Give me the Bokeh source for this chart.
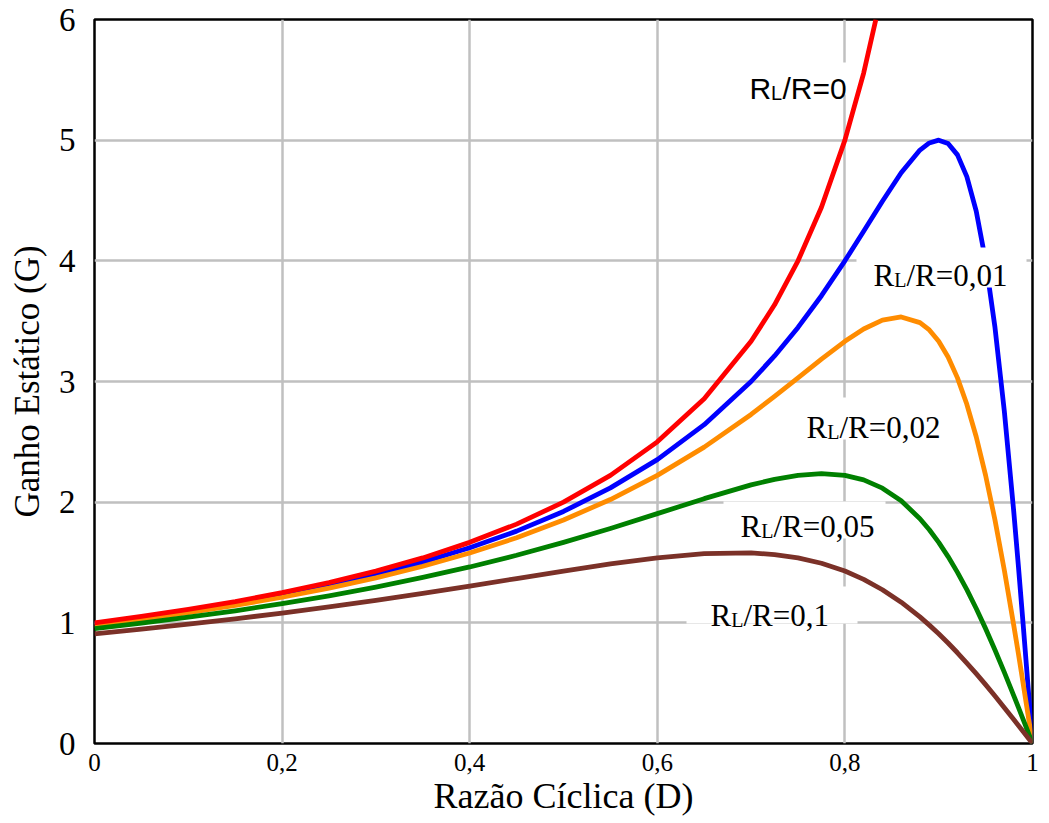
from bokeh.plotting import figure
from bokeh.models import Range1d, FixedTicker, Label, BoxAnnotation
from bokeh.embed import file_html
from bokeh.resources import INLINE

# ---------------- data ----------------
D = [0, 0.05, 0.1, 0.15, 0.2, 0.25, 0.3, 0.35, 0.4, 0.45, 0.5, 0.55, 0.6, 0.65,
     0.7, 0.725, 0.75, 0.775, 0.8, 0.82, 0.84, 0.86, 0.88, 0.89, 0.9, 0.91, 0.92,
     0.93, 0.94, 0.95, 0.96, 0.97, 0.98, 0.985, 0.99, 0.995, 1.0]

D_r0 = [0, 0.05, 0.1, 0.15, 0.2, 0.25, 0.3, 0.35, 0.4, 0.45, 0.5, 0.55, 0.6,
        0.65, 0.7, 0.725, 0.75, 0.775, 0.8, 0.82, 0.833]
G_r0 = [1.000, 1.053, 1.111, 1.176, 1.250, 1.333, 1.429, 1.538, 1.667, 1.818,
        2.000, 2.222, 2.500, 2.857, 3.333, 3.636, 4.000, 4.444, 5.000, 5.556, 6.000]

G_r001 = [0.990, 1.041, 1.098, 1.160, 1.231, 1.310, 1.400, 1.503, 1.622, 1.760,
          1.923, 2.118, 2.353, 2.642, 3.000, 3.212, 3.448, 3.711, 4.000, 4.245,
          4.494, 4.730, 4.918, 4.977, 5.000, 4.972, 4.878, 4.698, 4.412, 4.000,
          3.448, 2.752, 1.923, 1.467, 0.990, 0.499, 0.0]

G_r002 = [0.980, 1.030, 1.084, 1.145, 1.212, 1.288, 1.373, 1.469, 1.579, 1.705,
          1.852, 2.022, 2.222, 2.456, 2.727, 2.876, 3.030, 3.186, 3.333, 3.435,
          3.509, 3.535, 3.488, 3.427, 3.333, 3.203, 3.030, 2.811, 2.542, 2.222,
          1.852, 1.435, 0.980, 0.742, 0.498, 0.250, 0.0]

G_r005 = [0.952, 0.997, 1.047, 1.100, 1.159, 1.224, 1.296, 1.376, 1.463, 1.560,
          1.667, 1.782, 1.905, 2.029, 2.143, 2.189, 2.222, 2.236, 2.222, 2.185,
          2.116, 2.012, 1.863, 1.771, 1.667, 1.549, 1.418, 1.275, 1.119, 0.952,
          0.775, 0.589, 0.397, 0.299, 0.200, 0.100, 0.0]

G_r01 = [0.909, 0.948, 0.989, 1.033, 1.081, 1.132, 1.186, 1.244, 1.304, 1.367,
         1.429, 1.488, 1.538, 1.573, 1.579, 1.566, 1.538, 1.494, 1.429, 1.360,
         1.274, 1.171, 1.049, 0.981, 0.909, 0.833, 0.752, 0.667, 0.579, 0.488,
         0.394, 0.297, 0.199, 0.150, 0.100, 0.050, 0.0]

x_ticks = [0, 0.2, 0.4, 0.6, 0.8, 1]
x_tick_labels = ["0", "0,2", "0,4", "0,6", "0,8", "1"]
y_ticks = [0, 1, 2, 3, 4, 5, 6]
y_tick_labels = ["0", "1", "2", "3", "4", "5", "6"]

series_labels = ["/R=0", "/R=0,01", "/R=0,02", "/R=0,05", "/R=0,1"]

# ---------------- figure ----------------
W, H = 1049, 823
FL, FR, FT, FB = 94, 1032, 19, 743  # frame edges in canvas pixels

p = figure(width=W, height=H, x_range=Range1d(0, 1), y_range=Range1d(0, 6),
           output_backend="svg", toolbar_location=None,
           min_border_left=FL, min_border_right=W - FR,
           min_border_top=FT, min_border_bottom=H - FB)

p.background_fill_color = "white"
p.border_fill_color = "white"
p.outline_line_color = "black"
p.outline_line_width = 2.5
p.outline_line_alpha = 1.0

SERIF = "Liberation Serif"
SANS = "Liberation Sans"

for ax in (p.xaxis[0], p.yaxis[0]):
    ax.axis_line_color = None
    ax.major_tick_line_color = None
    ax.minor_tick_line_color = None
    ax.major_tick_out = 0
    ax.major_tick_in = 0
    ax.major_label_text_font = SERIF
    ax.major_label_text_color = "black"
    ax.axis_label_text_font = SERIF
    ax.axis_label_text_font_style = "normal"
    ax.axis_label_text_color = "black"

p.xaxis.ticker = FixedTicker(ticks=x_ticks)
p.xaxis.major_label_overrides = dict(zip(x_ticks, x_tick_labels))
p.xaxis.major_label_text_font_size = "25px"
p.xaxis.major_label_standoff = 10
p.xaxis.axis_label = "Razão Cíclica (D)"
p.xaxis.axis_label_text_font_size = "36px"
p.xaxis.axis_label_standoff = 2

p.yaxis.ticker = FixedTicker(ticks=y_ticks)
p.yaxis.major_label_overrides = dict(zip(y_ticks, y_tick_labels))
p.yaxis.major_label_text_font_size = "33px"
p.yaxis.major_label_standoff = 19
p.yaxis.axis_label = "Ganho Estático (G)"
p.yaxis.axis_label_text_font_size = "35px"
p.yaxis.axis_label_standoff = 9

p.xgrid.ticker = FixedTicker(ticks=x_ticks)
p.ygrid.ticker = FixedTicker(ticks=y_ticks)
for g in (p.xgrid[0], p.ygrid[0]):
    g.grid_line_color = "#C0C0C0"
    g.grid_line_width = 2.5

# ---------------- curves ----------------
LW = 4.8
p.line(D, G_r001, line_color="#0000FF", line_width=LW, line_join="round")
p.line(D, G_r002, line_color="#FF8C00", line_width=LW, line_join="round")
p.line(D, G_r005, line_color="#008000", line_width=LW, line_join="round")
p.line(D, G_r01, line_color="#7B3128", line_width=LW, line_join="round")
p.line(D_r0, G_r0, line_color="#FF0000", line_width=LW, line_join="round")

# ---------------- labels (pixel positions -> data) ----------------
PX0, PX1, PY0, PY1 = FL, FR, FT, FB
DX_PER_PX = 1.0 / (PX1 - PX0)
DY_PER_PX = 6.0 / (PY1 - PY0)


def X(px):
    return (px - PX0) * DX_PER_PX


def Y(py):
    return (PY1 - py) * DY_PER_PX


def add_label(tail, left, base, font, size, sub, r_adv, l_adv, box):
    bx0, by0, bx1, by1 = box
    p.add_layout(BoxAnnotation(left=X(bx0), right=X(bx1), top=Y(by0), bottom=Y(by1),
                               fill_color="white", fill_alpha=1.0,
                               line_color=None, level="annotation"))
    parts = [("R", 0, 0, size), ("L", r_adv, 4, sub), (tail, r_adv + l_adv, 0, size)]
    for txt, dx, db, fs in parts:
        p.add_layout(Label(x=X(left + dx), y=Y(base + db), text=txt,
                           text_font=font, text_font_size=f"{fs}px",
                           text_align="left", text_baseline="alphabetic",
                           text_color="black"))


add_label(series_labels[0], 749, 88, SANS, 30, 20, 21.5, 11.5, (745, 62, 852, 94))
add_label(series_labels[1], 873, 275, SERIF, 31, 20, 20.7, 12.2, (856, 247, 1026, 287))
add_label(series_labels[2], 806, 427, SERIF, 31, 20, 20.7, 12.2, (797, 397, 952, 439))
add_label(series_labels[3], 740, 526, SERIF, 31, 20, 20.7, 12.2, (723, 501, 885, 538))
add_label(series_labels[4], 710, 615, SERIF, 31, 20, 20.7, 12.2, (686, 586, 857, 623))

open("out.html", "w").write(file_html(p, INLINE))
